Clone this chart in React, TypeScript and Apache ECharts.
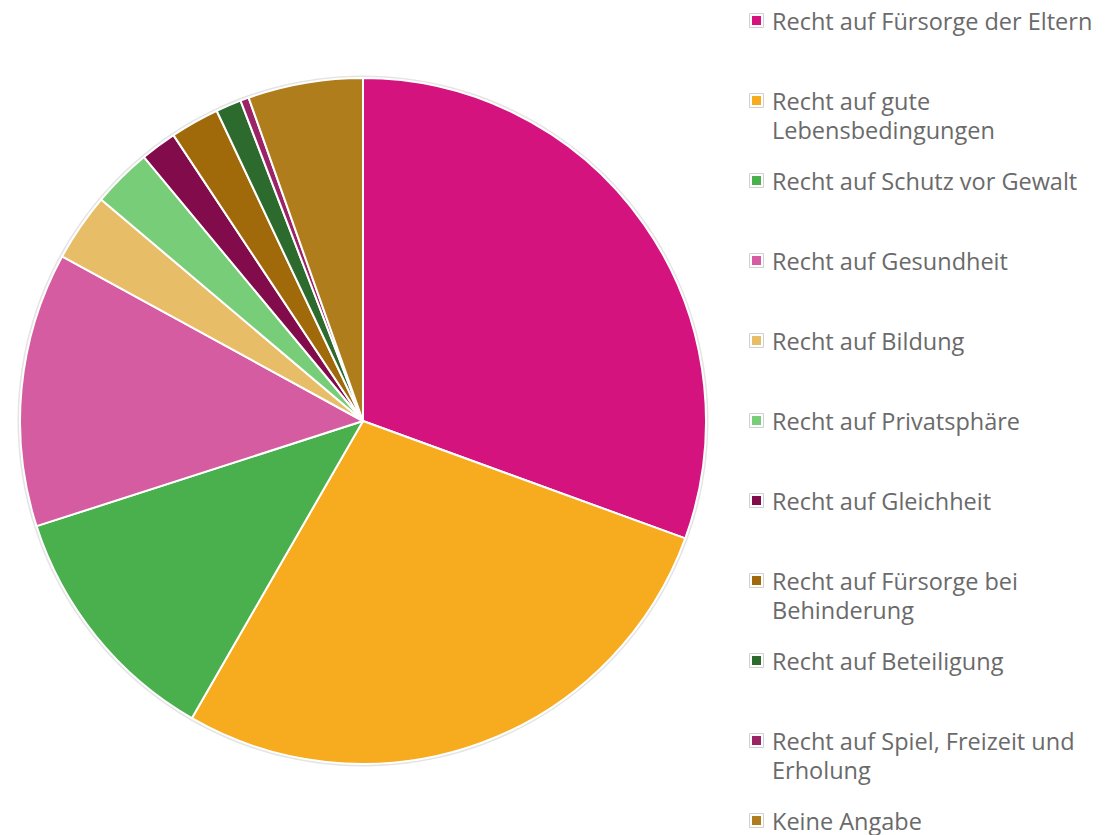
import React, { useEffect, useRef } from "react";
import * as echarts from "echarts";

const categories = [
  "Recht auf Fürsorge der Eltern",
  "Recht auf gute Lebensbedingungen",
  "Recht auf Schutz vor Gewalt",
  "Recht auf Gesundheit",
  "Recht auf Bildung",
  "Recht auf Privatsphäre",
  "Recht auf Gleichheit",
  "Recht auf Fürsorge bei Behinderung",
  "Recht auf Beteiligung",
  "Recht auf Spiel, Freizeit und Erholung",
  "Keine Angabe",
];

const values = [30.5, 27.7, 11.7, 12.9, 3.2, 2.8, 1.7, 2.3, 1.2, 0.4, 5.4];

const colors = [
  "#d5137e",
  "#f6ac1e",
  "#4aaf4d",
  "#d55ca0",
  "#e8bd68",
  "#78cd78",
  "#820b4b",
  "#a06a0a",
  "#2d6a2e",
  "#9b2466",
  "#b07d1d",
];

export default function App() {
  const ref = useRef<HTMLDivElement>(null);

  useEffect(() => {
    if (!ref.current) return;
    const chart = echarts.init(ref.current, null, { renderer: "svg" });

    const legendGraphics: any[] = [];
    categories.forEach((name, i) => {
      const cy = 20.5 + 80 * i;
      legendGraphics.push({
        type: "rect",
        shape: { x: 749.5, y: cy - 7, width: 14, height: 14 },
        style: { fill: "#ffffff", stroke: "#d0d0d0", lineWidth: 1 },
        silent: true,
      });
      legendGraphics.push({
        type: "rect",
        shape: { x: 752, y: cy - 4.5, width: 9, height: 9 },
        style: { fill: colors[i] },
        silent: true,
      });
      legendGraphics.push({
        type: "text",
        x: 772,
        y: cy - 14.5,
        style: {
          text: name,
          fill: "#6a6a6a",
          font: '23.5px "Open Sans"',
          width: 335,
          overflow: "break",
          lineHeight: 29,
          verticalAlign: "top",
        },
        silent: true,
      });
    });

    chart.setOption({
      animation: false,
      backgroundColor: "#ffffff",
      graphic: legendGraphics,
      series: [
        {
          type: "pie",
          silent: true,
          radius: [0, 345.5],
          center: [363, 421],
          z: 1,
          label: { show: false },
          labelLine: { show: false },
          itemStyle: { color: "#e4e4e4" },
          data: [{ value: 1, name: "outline" }],
        },
        {
          type: "pie",
          radius: [0, 343],
          center: [363, 421],
          startAngle: 90,
          clockwise: true,
          z: 2,
          label: { show: false },
          labelLine: { show: false },
          itemStyle: { borderColor: "#ffffff", borderWidth: 2 },
          data: categories.map((name, i) => ({
            name,
            value: values[i],
            itemStyle: { color: colors[i] },
          })),
        },
      ],
    });

    return () => chart.dispose();
  }, []);

  return (
    <div
      ref={ref}
      style={{ position: "fixed", left: 0, top: 0, width: 1118, height: 835 }}
    />
  );
}
